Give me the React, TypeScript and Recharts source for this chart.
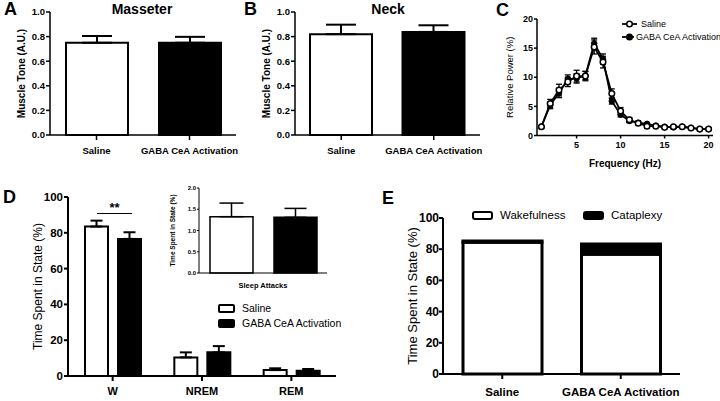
import React from 'react';
import { BarChart, Bar, XAxis, YAxis, ErrorBar, Cell, LineChart, Line, Legend } from 'recharts';

const FONT = '"Liberation Sans", Arial, Helvetica, sans-serif';

// ---------- Panels A & B ----------
const groupLabels = ['Saline', 'GABA CeA Activation'];
const groupFills = ['#ffffff', '#000000'];
const masseterTone = [0.75, 0.75];
const masseterSem = [0.055, 0.048];
const neckTone = [0.82, 0.838];
const neckSem = [0.077, 0.054];
const toneTicks = [0, 0.2, 0.4, 0.6, 0.8, 1.0];

// ---------- Panel C ----------
const frequencyHz = [1, 2, 3, 4, 5, 6, 7, 8, 9, 10, 11, 12, 13, 14, 15, 16, 17, 18, 19, 20];
const salinePower = [1.5, 5.5, 7.8, 9.2, 10.2, 10.2, 15.2, 12.6, 7.2, 4.2, 2.7, 2.1, 1.6, 1.6, 1.4, 1.5, 1.5, 1.3, 1.1, 1.1];
const salinePowerSem = [0.2, 0.7, 1.0, 0.8, 1.0, 0.8, 1.2, 1.0, 0.8, 0.6, 0.4, 0.3, 0.3, 0.2, 0.2, 0.2, 0.2, 0.2, 0.2, 0.2];
const gabaPower = [1.5, 5.2, 7.3, 9.7, 9.8, 10.3, 15.8, 13.1, 5.9, 3.6, 2.5, 2.2, 2.0, 1.7, 1.5, 1.4, 1.5, 1.3, 1.1, 1.1];
const gabaPowerSem = [0.2, 0.6, 0.8, 0.7, 0.8, 0.7, 0.9, 0.9, 0.5, 0.4, 0.3, 0.3, 0.2, 0.2, 0.2, 0.2, 0.2, 0.2, 0.2, 0.2];
const powerTicks = [0, 5, 10, 15, 20];
const freqTicks = [5, 10, 15, 20];

// ---------- Panel D ----------
const states = ['W', 'NREM', 'REM'];
const salineState = [83.5, 10.4, 3.3];
const salineStateSem = [3.3, 2.8, 1.0];
const gabaState = [76.6, 13.2, 2.9];
const gabaStateSem = [3.7, 3.5, 1.0];
const stateTicks = [0, 20, 40, 60, 80, 100];

// inset
const insetCategory = ['Sleep Attacks'];
const salineAttack = [1.325];
const salineAttackSem = [0.32];
const gabaAttack = [1.31];
const gabaAttackSem = [0.21];
const attackTicks = [0, 0.5, 1.0, 1.5, 2.0];

// ---------- Panel E ----------
const stackNames = ['Wakefulness', 'Cataplexy'];
const wakefulness = [84.5, 76.8];
const cataplexy = [0.8, 6.5];

// ---------- data tables ----------
const masseterData = groupLabels.map((g, i) => ({ group: g, tone: masseterTone[i], sem: [0, masseterSem[i]] }));
const neckData = groupLabels.map((g, i) => ({ group: g, tone: neckTone[i], sem: [0, neckSem[i]] }));
const powerData = frequencyHz.map((hz, i) => ({
  hz,
  saline: salinePower[i],
  salineSem: salinePowerSem[i],
  gaba: gabaPower[i],
  gabaSem: gabaPowerSem[i],
}));
const stateData = states.map((s, i) => ({
  state: s,
  saline: salineState[i],
  salineSem: [0, salineStateSem[i]],
  gaba: gabaState[i],
  gabaSem: [0, gabaStateSem[i]],
}));
const attackData = insetCategory.map((c, i) => ({
  cat: c,
  saline: salineAttack[i],
  salineSem: [0, salineAttackSem[i]],
  gaba: gabaAttack[i],
  gabaSem: [0, gabaAttackSem[i]],
}));
const stackData = groupLabels.map((g, i) => ({ group: g, wake: wakefulness[i], cata: cataplexy[i] }));

// ---------- helpers ----------
const ax15 = { stroke: '#000', strokeWidth: 1.5 };
const ax2 = { stroke: '#000', strokeWidth: 2 };

function tickStyle(size: number, bold = true) {
  return { fill: '#000', fontSize: size, fontWeight: bold ? 700 : 400, fontFamily: FONT };
}

function yLabel(value: string, offset: number, size: number, bold: boolean) {
  return {
    value,
    angle: -90,
    position: 'insideLeft' as const,
    offset,
    style: { textAnchor: 'middle', fontSize: size, fontWeight: bold ? 700 : 400, fontFamily: FONT, fill: '#000' },
  };
}

function Abs({ left, top, children }: { left: number; top: number; children: React.ReactNode }) {
  return <div style={{ position: 'absolute', left, top }}>{children}</div>;
}

function PanelLetter({ left, top, text }: { left: number; top: number; text: string }) {
  return (
    <div style={{ position: 'absolute', left, top, fontSize: 18, fontWeight: 700, lineHeight: 1, fontFamily: FONT, color: '#000' }}>
      {text}
    </div>
  );
}

function Title({ cx, top, text }: { cx: number; top: number; text: string }) {
  return (
    <div style={{ position: 'absolute', left: cx - 100, width: 200, top, textAlign: 'center', fontSize: 14, fontWeight: 700, lineHeight: 1, fontFamily: FONT, color: '#000' }}>
      {text}
    </div>
  );
}

function ToneChart({ data, right }: { data: any[]; right: number }) {
  return (
    <BarChart width={245} height={165} data={data} margin={{ top: 12, right, left: 5, bottom: 5 }}>
      <XAxis dataKey="group" interval={0} height={25} tick={tickStyle(9.5)} tickSize={5} tickMargin={7} axisLine={ax15} tickLine={ax15} />
      <YAxis
        type="number"
        domain={[0, 1]}
        ticks={toneTicks}
        tickFormatter={(v: number) => v.toFixed(1)}
        width={45}
        tick={tickStyle(9.5)}
        tickSize={4}
        tickMargin={1}
        axisLine={ax15}
        tickLine={ax15}
        label={yLabel('Muscle Tone (A.U.)', 16, 10, true)}
      />
      <Bar dataKey="tone" barSize={62} stroke="#000" strokeWidth={2} isAnimationActive={false}>
        {data.map((_, i) => (
          <Cell key={i} fill={groupFills[i]} />
        ))}
        <ErrorBar dataKey="sem" width={15} stroke="#000" strokeWidth={2} direction="y" />
      </Bar>
    </BarChart>
  );
}

function PowerLegend() {
  return (
    <div style={{ fontFamily: FONT, fontSize: 9, color: '#000' }}>
      {groupLabels.map((name, i) => (
        <div key={name} style={{ display: 'flex', alignItems: 'center', height: 13 }}>
          <svg width={18} height={10} style={{ marginRight: 2 }}>
            <line x1={1} y1={5} x2={16} y2={5} stroke="#000" strokeWidth={1.8} />
            <circle cx={8.5} cy={5} r={2.8} fill={groupFills[i]} stroke="#000" strokeWidth={1.5} />
          </svg>
          <span style={{ whiteSpace: 'nowrap' }}>{name}</span>
        </div>
      ))}
    </div>
  );
}

function StateLegend() {
  return (
    <div style={{ fontFamily: FONT, fontSize: 10.5, color: '#000' }}>
      {groupLabels.map((name, i) => (
        <div key={name} style={{ display: 'flex', alignItems: 'center', height: 15 }}>
          <div style={{ width: 13, height: 5, border: '2px solid #000', borderRadius: 2, background: groupFills[i], marginRight: 7 }} />
          <span style={{ whiteSpace: 'nowrap' }}>{name}</span>
        </div>
      ))}
    </div>
  );
}

function StackLegend() {
  const widths = [111, 100];
  return (
    <div style={{ display: 'flex', fontFamily: FONT, fontSize: 11.5, color: '#000' }}>
      {stackNames.map((name, i) => (
        <div key={name} style={{ display: 'flex', alignItems: 'center', width: widths[i], height: 14 }}>
          <div style={{ width: 17, height: 5, border: '2px solid #000', borderRadius: 3, background: groupFills[i], marginRight: 7 }} />
          <span style={{ whiteSpace: 'nowrap' }}>{name}</span>
        </div>
      ))}
    </div>
  );
}

export default function App() {
  return (
    <div style={{ position: 'absolute', left: 0, top: 0, width: 720, height: 401, background: '#fff', overflow: 'hidden', fontFamily: FONT }}>
      {/* Panel A */}
      <Abs left={0} top={0}>
        <ToneChart data={masseterData} right={9} />
      </Abs>
      <PanelLetter left={4} top={0} text="A" />
      <Title cx={142} top={2} text="Masseter" />

      {/* Panel B */}
      <Abs left={245} top={0}>
        <ToneChart data={neckData} right={10} />
      </Abs>
      <PanelLetter left={244} top={0} text="B" />
      <Title cx={388} top={2} text="Neck" />

      {/* Panel C */}
      <Abs left={490} top={0}>
        <LineChart width={230} height={180} data={powerData} margin={{ top: 19, right: 7, left: 5, bottom: 4.5 }}>
          <XAxis
            type="number"
            dataKey="hz"
            domain={[0.5, 20.5]}
            ticks={freqTicks}
            height={40}
            tick={tickStyle(9)}
            tickSize={3}
            tickMargin={3}
            axisLine={ax15}
            tickLine={ax15}
            label={{ value: 'Frequency (Hz)', position: 'insideBottom', offset: 8.5, style: { fontSize: 10, fontWeight: 700, fontFamily: FONT, fill: '#000' } }}
          />
          <YAxis
            type="number"
            domain={[0, 20]}
            ticks={powerTicks}
            width={42}
            tick={tickStyle(9)}
            tickSize={3}
            tickMargin={1}
            axisLine={ax15}
            tickLine={ax15}
            label={yLabel('Relative Power (%)', 15, 9.5, false)}
          />
          <Line
            dataKey="gaba"
            name={groupLabels[1]}
            stroke="#000"
            strokeWidth={1.8}
            dot={{ r: 2.8, fill: '#000', stroke: '#000', strokeWidth: 1 }}
            isAnimationActive={false}
          >
            <ErrorBar dataKey="gabaSem" width={3} stroke="#000" strokeWidth={1.3} direction="y" />
          </Line>
          <Line
            dataKey="saline"
            name={groupLabels[0]}
            stroke="#000"
            strokeWidth={1.8}
            dot={{ r: 2.8, fill: '#fff', stroke: '#000', strokeWidth: 1.5 }}
            isAnimationActive={false}
          >
            <ErrorBar dataKey="salineSem" width={3} stroke="#000" strokeWidth={1.3} direction="y" />
          </Line>
          <Legend layout="vertical" align="center" verticalAlign="middle" wrapperStyle={{ left: 131, top: 17.5, width: 100 }} content={() => <PowerLegend />} />
        </LineChart>
      </Abs>
      <PanelLetter left={496} top={1} text="C" />

      {/* Panel D */}
      <Abs left={0} top={185}>
        <BarChart width={345} height={216} data={stateData} margin={{ top: 12, right: 9, left: 5, bottom: 3 }} barGap={10}>
          <XAxis dataKey="state" interval={0} height={22} tick={tickStyle(11)} tickSize={5} tickMargin={6} axisLine={ax2} tickLine={ax2} />
          <YAxis
            type="number"
            domain={[0, 100]}
            ticks={stateTicks}
            width={63}
            tick={tickStyle(11.5)}
            tickSize={4}
            tickMargin={1}
            axisLine={ax2}
            tickLine={ax2}
            label={yLabel('Time Spent in State (%)', 33, 12, false)}
          />
          <Bar dataKey="saline" name={groupLabels[0]} barSize={23} fill="#fff" stroke="#000" strokeWidth={2} isAnimationActive={false}>
            <ErrorBar dataKey="salineSem" width={6} stroke="#000" strokeWidth={2} direction="y" />
          </Bar>
          <Bar dataKey="gaba" name={groupLabels[1]} barSize={23} fill="#000" stroke="#000" strokeWidth={2} isAnimationActive={false}>
            <ErrorBar dataKey="gabaSem" width={6} stroke="#000" strokeWidth={2} direction="y" />
          </Bar>
          <Legend layout="vertical" align="center" verticalAlign="middle" wrapperStyle={{ left: 218, top: 115.5, width: 130 }} content={() => <StateLegend />} />
        </BarChart>
      </Abs>
      <PanelLetter left={3} top={188} text="D" />
      {/* significance marker */}
      <div style={{ position: 'absolute', left: 97, top: 212.5, width: 35, borderTop: '1.5px solid #000' }} />
      <div style={{ position: 'absolute', left: 94.5, width: 40, top: 201, textAlign: 'center', fontSize: 13, fontWeight: 700, lineHeight: 1, fontFamily: FONT }}>**</div>

      {/* Inset of D */}
      <Abs left={150} top={180}>
        <BarChart width={185} height={115} data={attackData} margin={{ top: 8, right: 8, left: 3, bottom: 4 }} barGap={21}>
          <XAxis dataKey="cat" interval={0} height={18} tick={tickStyle(7.5)} tickLine={false} tickSize={0} tickMargin={10} axisLine={{ stroke: '#000', strokeWidth: 1 }} />
          <YAxis
            type="number"
            domain={[0, 2]}
            ticks={attackTicks}
            interval={0}
            tickFormatter={(v: number) => v.toFixed(1)}
            width={46}
            tick={tickStyle(6)}
            tickSize={2}
            tickMargin={1}
            axisLine={{ stroke: '#000', strokeWidth: 1 }}
            tickLine={{ stroke: '#000', strokeWidth: 1 }}
            label={yLabel('Time Spent in State (%)', 20, 6.5, true)}
          />
          <Bar dataKey="saline" barSize={43} fill="#fff" stroke="#000" strokeWidth={1.5} isAnimationActive={false}>
            <ErrorBar dataKey="salineSem" width={12} stroke="#000" strokeWidth={1.5} direction="y" />
          </Bar>
          <Bar dataKey="gaba" barSize={43} fill="#000" stroke="#000" strokeWidth={1.5} isAnimationActive={false}>
            <ErrorBar dataKey="gabaSem" width={11} stroke="#000" strokeWidth={1.5} direction="y" />
          </Bar>
        </BarChart>
      </Abs>

      {/* Panel E */}
      <Abs left={345} top={185}>
        <BarChart width={375} height={216} data={stackData} margin={{ top: 33, right: 40, left: 5, bottom: 3 }}>
          <XAxis dataKey="group" interval={0} height={24} tick={tickStyle(11.5)} tickSize={5} tickMargin={9} axisLine={ax2} tickLine={ax2} />
          <YAxis
            type="number"
            domain={[0, 100]}
            ticks={stateTicks}
            width={93}
            tick={tickStyle(12)}
            tickSize={4}
            tickMargin={0}
            axisLine={ax2}
            tickLine={ax2}
            label={yLabel('Time Spent in State (%)', 62, 13, false)}
          />
          <Bar dataKey="wake" name={stackNames[0]} stackId="s" barSize={79} fill="#fff" stroke="#000" strokeWidth={3} isAnimationActive={false} />
          <Bar dataKey="cata" name={stackNames[1]} stackId="s" barSize={79} fill="#000" stroke="#000" strokeWidth={3} isAnimationActive={false} />
          <Legend layout="vertical" align="center" verticalAlign="middle" wrapperStyle={{ left: 127, top: 23, width: 220 }} content={() => <StackLegend />} />
        </BarChart>
      </Abs>
      <PanelLetter left={382} top={189} text="E" />
    </div>
  );
}
